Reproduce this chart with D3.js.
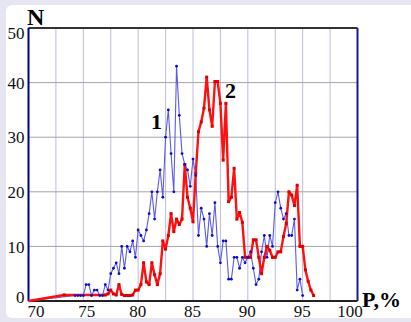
<!DOCTYPE html>
<meta charset="utf-8">
<style>
body {
  margin: 0;
  background: #e6e6f2;
}
.vgrid {
  stroke: #bcbcd8;
  stroke-width: 1px;
}
.hgrid {
  stroke: #a4a4a4;
  stroke-width: 1px;
}
.lbl {
  font-family: "Liberation Serif", "Times New Roman", serif;
  font-weight: bold;
  fill: #000;
}
</style>
<body>
<script src="https://d3js.org/d3.v7.min.js"></script>
<script>
// curve 1 (blue)
var blueP = [70,
  74.25, 74.5, 74.75, 75, 75.25, 75.5, 75.75, 76, 76.25, 76.5, 76.75, 77, 77.25,
  77.5, 77.75, 78, 78.25, 78.5, 78.75, 79, 79.25, 79.5, 79.75, 80, 80.25, 80.5, 80.75,
  81, 81.25, 81.5, 81.75, 82, 82.25, 82.5, 82.75, 83, 83.25, 83.5, 83.75, 84, 84.25,
  84.5, 84.75, 85, 85.25, 85.5, 85.75, 86, 86.25, 86.5, 86.75, 87, 87.25, 87.5, 87.75,
  88, 88.25, 88.5, 88.75, 89, 89.25, 89.5, 89.75, 90, 90.25, 90.5, 90.75, 91, 91.25,
  91.5, 91.75, 92, 92.25, 92.5, 92.75, 93, 93.25, 93.5, 93.75, 94, 94.25, 94.5, 94.75, 95];
var blueN = [0,
  1, 1, 1, 1, 3, 3, 1, 2, 2, 1, 1, 3, 2,
  5, 6, 7, 5, 10, 6, 10, 9, 11, 8, 13, 12, 11, 13,
  16, 20, 15, 20, 24, 19, 30, 35, 27, 20, 43, 34, 27, 25,
  24, 21, 26, 23, 12, 17, 15, 10, 16, 12, 18, 10, 7, 11,
  11, 4, 4, 8, 8, 6, 8, 7, 8, 9, 6, 3, 4, 9,
  12, 8, 12, 10, 18, 20, 17, 15, 16, 12, 12, 15, 2, 4, 1];

// curve 2 (red)
var redP = [70, 73.25, 77,
  77.25, 77.5, 77.75, 78, 78.25, 78.5, 78.75, 79, 79.25, 79.5, 79.75, 80, 80.25, 80.5, 80.75,
  81, 81.25, 81.5, 81.75, 82, 82.25, 82.5, 82.75, 83, 83.25, 83.5, 83.75, 84, 84.25,
  84.5, 84.75, 85, 85.25, 85.5, 85.75, 86, 86.25, 86.5, 86.75, 87, 87.25, 87.5, 87.75,
  88, 88.25, 88.5, 88.75, 89, 89.25, 89.5, 89.75, 90, 90.25, 90.5, 90.75, 91, 91.25,
  91.5, 91.75, 92, 92.25, 92.5, 92.75, 93, 93.25, 93.5, 93.75, 94, 94.25, 94.5, 94.75,
  95, 95.25, 95.5, 95.75, 96];
var redN = [0, 1.1, 1.1,
  1.3, 2, 1.3, 1.1, 3, 1.2, 1, 1, 1, 1.1, 2, 2, 3, 7, 3.5,
  3, 7, 4.8, 3, 5, 11, 9.5, 12, 16, 12.7, 15, 14, 15, 25,
  19, 17, 14.5, 23.4, 31, 32.8, 35.3, 41, 35, 32, 40.2, 40.2, 36.2, 25.8,
  36.2, 18.2, 19, 24.3, 15, 16.2, 14.4, 8, 8, 8, 11.2, 11.2, 8, 5,
  8, 10, 9.3, 8, 8, 9, 9, 11.8, 14.2, 20, 19.4, 17.5, 21.2, 10,
  10, 5.7, 3.6, 2, 1];

var xTicks = [70, 75, 80, 85, 90, 95, 100];
var xGrid = [72.5, 75, 77.5, 80, 82.5, 85, 87.5, 90, 92.5, 95, 97.5];
var yTicks = [0, 10, 20, 30, 40, 50];
var yGrid = [10, 20, 30, 40];

var W = 411, H = 322;
var serif = '"Liberation Serif", "Times New Roman", serif';
var x = d3.scaleLinear().domain([70, 100]).range([28.5, 357.5]);
var y = d3.scaleLinear().domain([0, 50]).range([301, 28]);

var svg = d3.select("body").append("svg")
    .attr("width", W)
    .attr("height", H);

// white panel
svg.append("rect")
    .attr("x", 6).attr("y", 5)
    .attr("width", W).attr("height", 313)
    .attr("rx", 6)
    .attr("fill", "#fff");

// gridlines
svg.selectAll(".vgrid").data(xGrid).enter().append("line")
    .attr("class", "vgrid")
    .attr("x1", function(d) { return x(d); }).attr("x2", function(d) { return x(d); })
    .attr("y1", y(50)).attr("y2", y(0));
svg.selectAll(".hgrid").data(yGrid).enter().append("line")
    .attr("class", "hgrid")
    .attr("x1", x(70)).attr("x2", x(100))
    .attr("y1", function(d) { return y(d); }).attr("y2", function(d) { return y(d); });

// frame: horizontal edges dark, vertical edges navy
svg.append("line").attr("x1", x(70)).attr("x2", x(100)).attr("y1", y(50)).attr("y2", y(50))
    .attr("stroke", "#333").attr("stroke-width", 2);
svg.append("line").attr("x1", x(70)).attr("x2", x(100)).attr("y1", y(0)).attr("y2", y(0))
    .attr("stroke", "#222").attr("stroke-width", 2);
svg.append("line").attr("x1", x(70)).attr("x2", x(70)).attr("y1", y(50)).attr("y2", y(0))
    .attr("stroke", "#00008a").attr("stroke-width", 2);
svg.append("line").attr("x1", x(100)).attr("x2", x(100)).attr("y1", y(50)).attr("y2", y(0))
    .attr("stroke", "#1a1a8a").attr("stroke-width", 2);

// axes (labels only)
var yAxis = svg.append("g")
    .attr("transform", "translate(" + x(70) + ",0)")
    .call(d3.axisLeft(y).tickValues(yTicks).tickSize(0).tickPadding(4));
yAxis.select(".domain").remove();
yAxis.selectAll(".tick text")
    .style("font-family", serif)
    .style("font-size", "17px")
    .style("fill", "#111")
    .attr("dy", function(d) { return d == 0 ? "0.1em" : d == 50 ? "0.6em" : "0.33em"; });

var xAxis = svg.append("g")
    .attr("transform", "translate(0," + y(0) + ")")
    .call(d3.axisBottom(x).tickValues(xTicks).tickSize(0).tickPadding(4));
xAxis.select(".domain").remove();
xAxis.selectAll(".tick text")
    .style("font-family", serif)
    .style("font-size", "17px")
    .style("fill", "#111")
    .attr("dy", "0.72em")
    .attr("dx", function(d) { return d == 70 ? "7px" : d == 100 ? "-8px" : d == 75 ? "3px" : "-1px"; });

var blue = blueP.map(function(p, i) { return {p: p, n: blueN[i]}; });
var red = redP.map(function(p, i) { return {p: p, n: redN[i]}; });

var line = d3.line()
    .x(function(d) { return x(d.p); })
    .y(function(d) { return y(d.n); });

// blue line
svg.append("path")
    .datum(blue)
    .attr("fill", "none")
    .attr("stroke", "#5a5ae6")
    .attr("stroke-width", 1.1)
    .attr("d", line);

// red line + markers
svg.append("path")
    .datum(red)
    .attr("fill", "none")
    .attr("stroke", "#ff1010")
    .attr("stroke-width", 2.4)
    .attr("stroke-linejoin", "round")
    .attr("d", line);
svg.selectAll(".rdot").data(red.slice(1)).enter().append("rect")
    .attr("class", "rdot")
    .attr("x", function(d) { return x(d.p) - 1.5; })
    .attr("y", function(d) { return y(d.n) - 1.5; })
    .attr("width", 3).attr("height", 3)
    .attr("fill", "#e00000");

// blue markers
svg.selectAll(".bdot").data(blue.slice(1)).enter().append("circle")
    .attr("class", "bdot")
    .attr("cx", function(d) { return x(d.p); })
    .attr("cy", function(d) { return y(d.n); })
    .attr("r", 1.4)
    .attr("fill", "#0a0ad0");

// labels
svg.append("text").attr("class", "lbl").attr("x", 27).attr("y", 25)
    .style("font-size", "24px").text("N");
svg.append("text").attr("class", "lbl").attr("x", 362).attr("y", 307)
    .style("font-size", "22px").text("P,%");
svg.append("text").attr("class", "lbl").attr("x", 151).attr("y", 129)
    .style("font-size", "22px").text("1");
svg.append("text").attr("class", "lbl").attr("x", 225).attr("y", 98)
    .style("font-size", "22px").text("2");
</script>
</body>
